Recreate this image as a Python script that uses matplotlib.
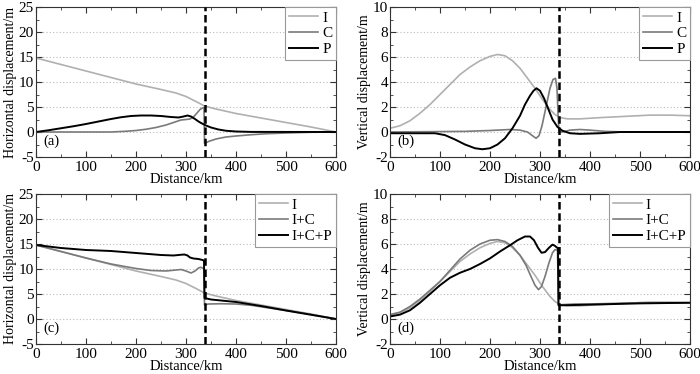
import matplotlib
matplotlib.use("Agg")
import matplotlib.pyplot as plt
from matplotlib.ticker import MultipleLocator

plt.rcParams['font.family'] = ['Liberation Serif', 'DejaVu Serif']
plt.rcParams['font.size'] = 10
plt.rcParams['axes.unicode_minus'] = False

# ---------------- data ----------------
# Panel (a)/(c): horizontal displacement, I
xa_I = [0, 50, 100, 150, 200, 250, 280, 300, 320, 337, 360, 400, 450, 500, 550, 600]
ya_I = [14.8, 13.5, 12.2, 10.9, 9.6, 8.5, 7.8, 7.1, 6.1, 5.2, 4.6, 3.7, 2.8, 1.9, 1.0, 0.0]
# C
xa_C = [0, 150, 180, 200, 220, 240, 260, 275, 290, 300, 308, 315, 322, 328, 333, 336,
        337, 345, 360, 380, 400, 430, 460, 500, 550, 600]
ya_C = [0.0, 0.0, 0.15, 0.3, 0.55, 0.9, 1.4, 1.9, 2.4, 2.5, 2.6, 3.0, 3.8, 4.5, 4.8, 4.9,
        -2.3, -1.9, -1.4, -1.0, -0.8, -0.55, -0.35, -0.2, -0.05, 0.0]
# P
xa_P = [0, 25, 50, 75, 100, 125, 150, 170, 190, 210, 230, 250, 270, 285, 295, 303, 310,
        318, 325, 332, 340, 350, 365, 380, 400, 430, 600]
ya_P = [0.0, 0.35, 0.75, 1.15, 1.6, 2.1, 2.6, 2.95, 3.2, 3.3, 3.3, 3.2, 3.0, 2.9, 3.1, 3.3, 3.1,
        2.6, 2.1, 1.7, 1.3, 0.9, 0.5, 0.25, 0.1, 0.02, 0.0]

# Panel (b)/(d): vertical displacement, I
xb_I = [0, 20, 40, 60, 80, 100, 120, 140, 160, 180, 200, 215, 230, 245, 260, 275, 290, 305,
        320, 330, 340, 355, 380, 420, 470, 520, 560, 600]
yb_I = [0.3, 0.5, 0.9, 1.5, 2.2, 3.0, 3.8, 4.6, 5.2, 5.7, 6.05, 6.2, 6.1, 5.7, 5.1, 4.3, 3.5, 2.6,
        1.8, 1.4, 1.15, 1.05, 1.05, 1.15, 1.25, 1.35, 1.35, 1.3]
# C
xb_C = [0, 150, 200, 240, 260, 275, 285, 292, 298, 304, 312, 320, 326, 331, 334, 336, 338,
        345, 360, 380, 400, 430, 470, 600]
yb_C = [0.0, 0.05, 0.12, 0.2, 0.15, 0.0, -0.3, -0.5, -0.3, 0.5, 2.0, 3.5, 4.2, 4.3, 3.5, 1.5, 0.0,
        0.0, 0.15, 0.2, 0.15, 0.05, 0.0, 0.0]
# P
xb_P = [0, 90, 110, 130, 150, 170, 185, 200, 215, 230, 245, 260, 270, 280, 287, 293, 300, 308,
        316, 325, 335, 345, 360, 380, 420, 460, 600]
yb_P = [-0.1, -0.1, -0.25, -0.6, -1.0, -1.3, -1.38, -1.3, -1.0, -0.5, 0.3, 1.3, 2.2, 2.9, 3.3, 3.5,
        3.3, 2.7, 1.9, 1.0, 0.4, 0.1, -0.1, -0.15, -0.1, 0.0, 0.0]

# Panel (c): I+C, I+C+P
xc_IC = [0, 50, 100, 150, 200, 230, 260, 280, 290, 300, 310, 318, 325, 330, 336,
         337, 345, 370, 400, 430, 460, 500, 550, 600]
yc_IC = [14.8, 13.5, 12.2, 11.0, 10.1, 9.7, 9.6, 9.8, 9.9, 9.6, 9.2, 9.6, 10.2, 10.35, 10.0,
         2.8, 3.0, 3.05, 3.0, 2.75, 2.3, 1.7, 0.9, 0.0]
xc_ICP = [0, 50, 100, 150, 200, 250, 275, 290, 297, 303, 308, 315, 325, 333, 336,
          337, 350, 400, 450, 500, 550, 600]
yc_ICP = [14.8, 14.2, 13.8, 13.6, 13.2, 12.8, 12.7, 12.85, 12.9, 12.7, 12.3, 12.1, 12.0, 11.8, 11.7,
          4.2, 3.9, 3.4, 2.6, 1.7, 0.85, 0.0]

# Panel (d): I+C, I+C+P
xd_IC = [0, 20, 40, 60, 80, 100, 120, 140, 160, 180, 200, 215, 230, 245, 260, 272, 282, 290,
         297, 303, 310, 318, 325, 330, 335, 337, 345, 370, 400, 450, 500, 600]
yd_IC = [0.35, 0.55, 1.0, 1.6, 2.3, 3.0, 3.9, 4.8, 5.5, 6.0, 6.3, 6.35, 6.2, 5.8, 5.1, 4.3, 3.4, 2.7,
         2.35, 2.6, 3.4, 4.5, 5.3, 5.55, 5.5, 1.1, 1.15, 1.2, 1.2, 1.25, 1.3, 1.3]
xd_ICP = [0, 20, 40, 60, 80, 100, 120, 140, 160, 180, 200, 220, 240, 255, 270, 280, 288, 296,
          303, 310, 318, 325, 330, 334, 336, 337, 350, 400, 450, 500, 600]
yd_ICP = [0.2, 0.35, 0.7, 1.3, 2.0, 2.7, 3.3, 3.7, 4.0, 4.4, 4.85, 5.4, 5.9, 6.3, 6.6, 6.6, 6.3, 5.7,
          5.3, 5.35, 5.7, 5.95, 5.85, 5.7, 5.7, 1.1, 1.1, 1.15, 1.2, 1.25, 1.3]

boundary_x = 337

c_I, c_C, c_P = '#b0b0b0', '#7a7a7a', '#000000'

fig = plt.figure(figsize=(7.0, 3.74), dpi=100)
L1, L2 = 36/700, 390/700
W = 300/700
H = 150/374
B1, B2 = (374-157)/374, (374-344)/374

axa = fig.add_axes([L1, B1, W, H])
axb = fig.add_axes([L2, B1, W, H])
axc = fig.add_axes([L1, B2, W, H])
axd = fig.add_axes([L2, B2, W, H])

def style(ax, ylim, ymaj, ymin, ylabel, tag):
    ax.set_xlim(0, 600)
    ax.set_ylim(*ylim)
    ax.xaxis.set_major_locator(MultipleLocator(100))
    ax.xaxis.set_minor_locator(MultipleLocator(50))
    ax.yaxis.set_major_locator(MultipleLocator(ymaj))
    ax.yaxis.set_minor_locator(MultipleLocator(ymin))
    ax.tick_params(which='both', direction='in', top=True, right=True, color='#333333',
                   labelsize=11)
    ax.tick_params(which='major', length=4)
    ax.tick_params(axis='y', which='major', pad=1.5)
    ax.tick_params(axis='x', which='major', pad=3)
    ax.tick_params(which='minor', length=2)
    ax.grid(axis='y', which='major', linestyle=(0, (1, 2)), color='#bbbbbb', linewidth=0.8)
    ax.set_axisbelow(True)
    ax.set_xlabel('Distance/km', labelpad=-1, fontsize=10.5)
    ax.set_ylabel(ylabel, labelpad=1, fontsize=10)
    ax.axvline(boundary_x, color='black', linestyle=(0, (3, 1.5)), linewidth=1.8, zorder=5)
    ax.text(0.025, 0.08, tag, transform=ax.transAxes, fontsize=10.5)
    for s in ax.spines.values():
        s.set_color('#333333')
    leg = ax.legend(loc='upper right', borderaxespad=0, fancybox=False, framealpha=1,
                    edgecolor='#999999', handlelength=1.9, handletextpad=0.25,
                    borderpad=0.25, labelspacing=0.15, fontsize=11)
    leg.get_frame().set_linewidth(0.8)

lw = 1.2
axa.plot(xa_I, ya_I, color=c_I, lw=lw, label='I')
axa.plot(xa_C, ya_C, color=c_C, lw=lw, label='C')
axa.plot(xa_P, ya_P, color=c_P, lw=1.4, label='P')
style(axa, (-5, 25), 5, 2.5, 'Horizontal displacement/m', '(a)')

axb.plot(xb_I, yb_I, color=c_I, lw=lw, label='I')
axb.plot(xb_C, yb_C, color=c_C, lw=lw, label='C')
axb.plot(xb_P, yb_P, color=c_P, lw=1.4, label='P')
style(axb, (-2, 10), 2, 1, 'Vertical displacement/m', '(b)')

axc.plot(xa_I, ya_I, color=c_I, lw=lw, label='I')
axc.plot(xc_IC, yc_IC, color=c_C, lw=lw, label='I+C')
axc.plot(xc_ICP, yc_ICP, color=c_P, lw=1.4, label='I+C+P')
style(axc, (-5, 25), 5, 2.5, 'Horizontal displacement/m', '(c)')

axd.plot(xb_I, yb_I, color=c_I, lw=lw, label='I')
axd.plot(xd_IC, yd_IC, color=c_C, lw=lw, label='I+C')
axd.plot(xd_ICP, yd_ICP, color=c_P, lw=1.4, label='I+C+P')
style(axd, (-2, 10), 2, 1, 'Vertical displacement/m', '(d)')

fig.savefig('out.png', dpi=100)
